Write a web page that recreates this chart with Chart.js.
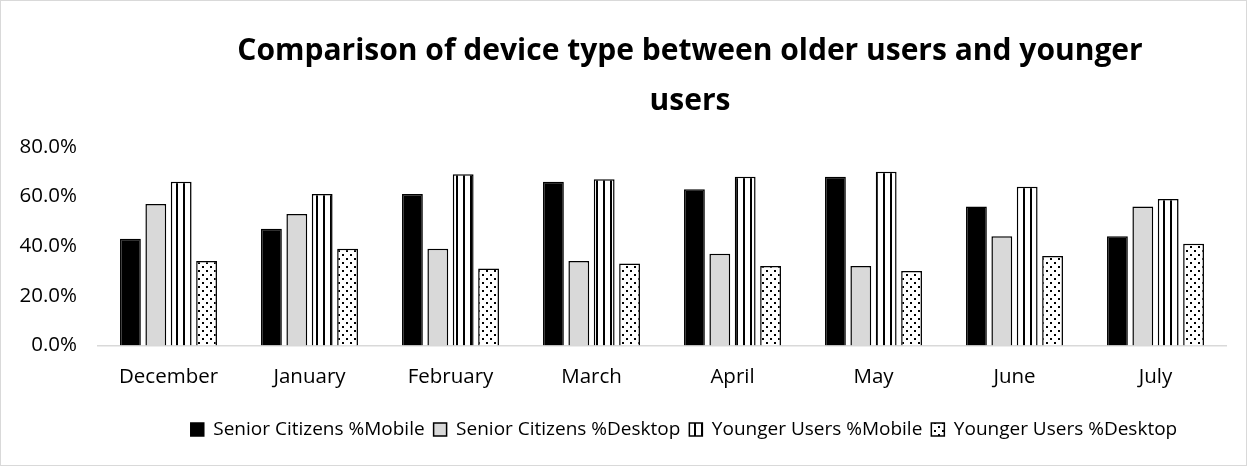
<!DOCTYPE html>
<html>
<head>
<meta charset="utf-8">
<script src="https://cdn.jsdelivr.net/npm/chart.js@4"></script>
<style>
  html, body { margin: 0; padding: 0; background: #fff; }
  #wrap { width: 1247px; height: 466px; box-sizing: border-box; border: 1px solid #d9d9d9; }
  #myChart { display: block; }
</style>
</head>
<body>
<div id="wrap"><canvas id="myChart" width="1245" height="464"></canvas></div>
<script>
const months = ["December", "January", "February", "March", "April", "May", "June", "July"];
const seniorMobile  = [43, 47, 61, 66, 63, 68, 56, 44];
const seniorDesktop = [57, 53, 39, 34, 37, 32, 44, 56];
const youngMobile   = [66, 61, 69, 67, 68, 70, 64, 59];
const youngDesktop  = [34, 39, 31, 33, 32, 30, 36, 41];
const seriesNames = [
  "Senior Citizens %Mobile",
  "Senior Citizens %Desktop",
  "Younger Users %Mobile",
  "Younger Users %Desktop"
];

// hatch fills like the excel pattern fills
const makePattern = (w, h, draw) => {
  const c = document.createElement("canvas");
  c.width = w;
  c.height = h;
  const ctx = c.getContext("2d");
  ctx.fillStyle = "#fff";
  ctx.fillRect(0, 0, w, h);
  ctx.fillStyle = "#000";
  draw(ctx);
  return ctx.createPattern(c, "repeat");
};
const stripes = makePattern(7, 4, (ctx) => ctx.fillRect(0, 0, 2, 4));
const dots = makePattern(8, 8, (ctx) => {
  ctx.fillRect(1, 1, 2, 2);
  ctx.fillRect(5, 5, 2, 2);
});

// excel puts title + legend a bit right of the middle
const titleShift = 68;
const legendShift = 62;
const shiftBoxes = {
  id: "shiftBoxes",
  afterLayout(chart) {
    const t = chart.titleBlock;
    if (t) { t.left += titleShift; t.right += titleShift; }
    const l = chart.legend;
    if (l) { l.left += legendShift; l.right += legendShift; }
  }
};

const fontFamily = "'Open Sans', 'Noto Sans', sans-serif";
Chart.defaults.font.family = fontFamily;
Chart.defaults.color = "#000";

new Chart("myChart", {
  type: "bar",
  data: {
    labels: months,
    datasets: [
      { label: seriesNames[0], data: seniorMobile,  backgroundColor: "#000",    borderColor: "#000", borderWidth: 1.5 },
      { label: seriesNames[1], data: seniorDesktop, backgroundColor: "#d9d9d9", borderColor: "#000", borderWidth: 1.5 },
      { label: seriesNames[2], data: youngMobile,   backgroundColor: stripes,   borderColor: "#000", borderWidth: 1.5 },
      { label: seriesNames[3], data: youngDesktop,  backgroundColor: dots,      borderColor: "#000", borderWidth: 1.5 }
    ]
  },
  plugins: [shiftBoxes],
  options: {
    responsive: false,
    animation: false,
    categoryPercentage: 0.72,
    barPercentage: 0.82,
    layout: { padding: { left: 17, right: 20, top: 6, bottom: 16 } },
    plugins: {
      title: {
        display: true,
        text: ["Comparison of device type between older users and younger", "users"],
        font: { size: 30, weight: "bold", lineHeight: 1.65 },
        padding: { top: 20, bottom: 21 }
      },
      legend: {
        position: "bottom",
        labels: {
          font: { size: 19 },
          boxWidth: 13,
          boxHeight: 13,
          padding: 9
        }
      },
      tooltip: { enabled: false }
    },
    scales: {
      x: {
        grid: { display: false },
        border: { color: "#d9d9d9", width: 1.5 },
        afterFit: (scale) => { scale.height += 11; },
        ticks: { font: { size: 20.5 }, padding: 11 }
      },
      y: {
        min: 0,
        max: 80,
        grid: { display: false, drawTicks: false },
        border: { display: false },
        afterFit: (scale) => { scale.width = 80; },
        ticks: {
          stepSize: 20,
          font: { size: 20.5 },
          padding: 21,
          callback: (v) => v.toFixed(1) + "%"
        }
      }
    }
  }
});
</script>
</body>
</html>
